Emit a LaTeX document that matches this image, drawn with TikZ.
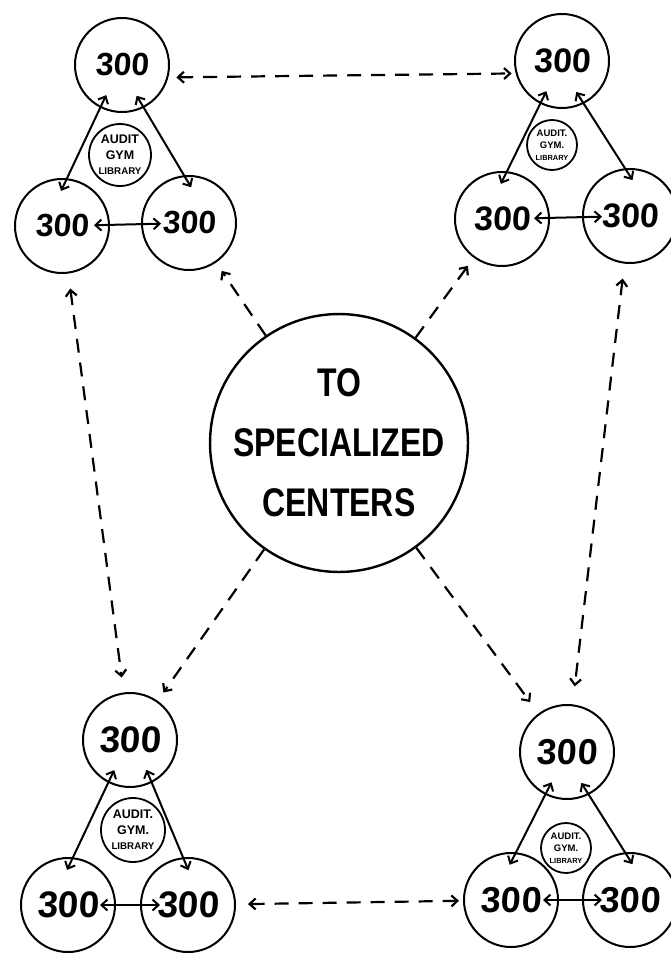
\documentclass[tikz,border=0pt]{standalone}
\usepackage{fontspec}
\setmainfont{Liberation Sans}
\newfontfamily\narrowsans[FakeStretch=0.8]{Liberation Sans}
\newfontfamily\slantsans[FakeSlant=0.06]{Liberation Sans}
\usetikzlibrary{arrows.meta}

\tikzset{
  site/.style={circle, draw, line width=2pt, minimum size=94pt, inner sep=0pt},
  hub/.style={circle, draw, line width=2.4pt, minimum size=250pt, inner sep=0pt,
    align=center, font=\fontsize{40}{60}\selectfont\narrowsans\bfseries},
  facility/.style={circle, draw, line width=1.8pt, inner sep=0pt, align=center},
  link/.style={<->, line width=2pt, shorten <=-14pt, shorten >=-14pt},
  route/.style={line width=2.2pt, dash pattern=on 14pt off 10pt}
}

\begin{document}
\begin{tikzpicture}[x=1pt, y=-1pt, >={Straight Barb[length=6pt,width=11pt]}]
  \useasboundingbox (0,0) rectangle (671,953);

  % the four groups of three schools
  \foreach \n/\tx/\ty/\lx/\ly/\rx/\ry/\ax/\ay/\ad/\fs/\as/\au/\gy in
    {tl/122/65/62/226/189/223/120/155/62/32/12.5/AUDIT/GYM,
     tr/562/61/502/219/630/216/552/145/50/34/9.5/AUDIT./GYM.,
     bl/130/740/68/905/188/905/133/830/64/37/12.5/AUDIT./GYM.,
     br/567/752/511/900/630/900/566/848/50/36/9.5/AUDIT./GYM.}
  {
    \pgfmathsetmacro\ls{0.78*\as}
    \pgfmathsetmacro\bs{1.25*\as}
    \node[site, font=\fontsize{\fs}{\fs}\selectfont\slantsans\bfseries] (\n-t) at (\tx,\ty) {300};
    \node[site, font=\fontsize{\fs}{\fs}\selectfont\slantsans\bfseries] (\n-l) at (\lx,\ly) {300};
    \node[site, font=\fontsize{\fs}{\fs}\selectfont\slantsans\bfseries] (\n-r) at (\rx,\ry) {300};
    \node[facility, minimum size=\ad pt, font=\fontsize{\as}{\bs}\selectfont\bfseries]
      (\n-a) at (\ax,\ay) {\au\\\gy\\{\fontsize{\ls}{\ls}\selectfont LIBRARY}};
    \draw[link] (\n-t.243) -- (\n-l.84);
    \draw[link] (\n-t.297) -- (\n-r.96);
    \draw[link, shorten <=-16pt, shorten >=-20pt] (\n-l) -- (\n-r);
  }

  \node[hub] (hub) at (339,443) {TO\\SPECIALIZED\\CENTERS};

  % dashed routes
  \draw[route, ->, shorten >=10pt] (hub) -- (tl-r);
  \draw[route, ->, shorten >=10pt] (hub) -- (tr-l);
  \draw[route, ->, shorten >=10pt] (hub) -- (bl-t);
  \draw[route, ->, shorten >=14pt] (hub) -- (br-t);
  \draw[route, <->, shorten <=8pt, shorten >=4pt] (tl-t.-15) -- (tr-t.195);
  \draw[route, <->, shorten <=12pt, shorten >=4pt] (bl-r) -- (br-l);
  \draw[route, <->, shorten <=15pt, shorten >=15pt] (tl-l) -- (bl-t);
  \draw[route, <->, shorten <=15pt, shorten >=18pt] (tr-r) -- (br-t);
\end{tikzpicture}
\end{document}
